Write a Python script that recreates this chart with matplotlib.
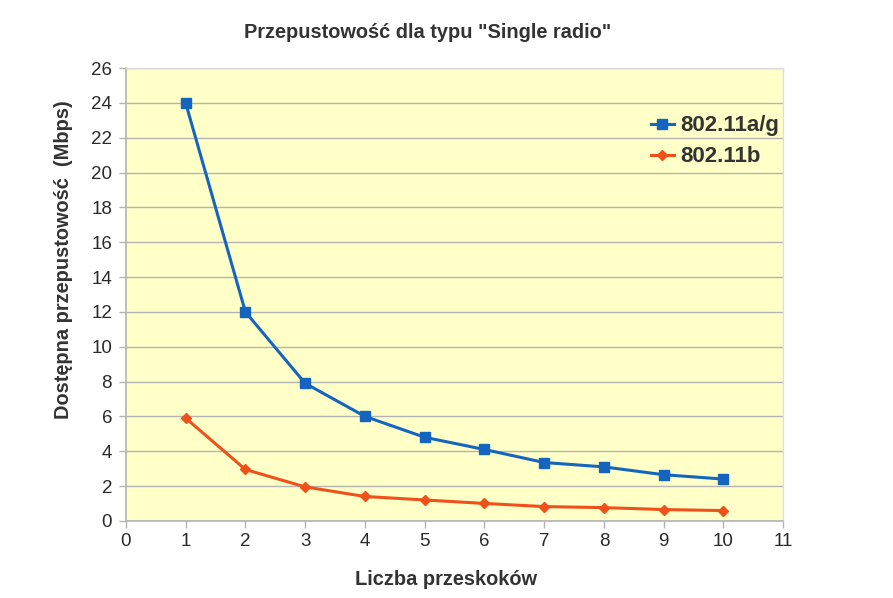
import matplotlib
matplotlib.use("Agg")
import matplotlib.pyplot as plt

hops = [1, 2, 3, 4, 5, 6, 7, 8, 9, 10]
ag_mbps = [24.0, 12.0, 7.9, 6.0, 4.8, 4.1, 3.35, 3.1, 2.65, 2.4]
b_mbps = [5.9, 2.95, 1.95, 1.4, 1.2, 1.0, 0.82, 0.76, 0.65, 0.59]
series_names = ["802.11a/g", "802.11b"]

plt.rcParams["font.family"] = ["Liberation Sans", "DejaVu Sans"]

fig = plt.figure(figsize=(8.93, 5.98), dpi=100, facecolor="white")
ax = fig.add_axes([0.141, 0.129, 0.736, 0.757])
ax.set_facecolor("#ffffc8")

ax.plot(hops, ag_mbps, color="#1565c0", lw=2.2, marker="s", ms=6.5,
        label=series_names[0], zorder=3)
ax.plot(hops, b_mbps, color="#f0501a", lw=2.2, marker="D", ms=5,
        label=series_names[1], zorder=3)

ax.set_xlim(0, 11)
ax.set_ylim(0, 26)
ax.set_xticks(range(0, 12))
ax.set_yticks(range(0, 27, 2))
ax.yaxis.grid(True, color="#b3b3b3", lw=1)
ax.set_axisbelow(True)
ax.tick_params(labelsize=13.5, length=5, width=1, direction="out",
               labelcolor="#2a2a2a", color="#b3b3b3")
ax.tick_params(axis="x", pad=4)
ax.tick_params(axis="y", pad=5)
for side in ["left", "bottom"]:
    ax.spines[side].set_color("#b3b3b3")
    ax.spines[side].set_linewidth(1.2)
for side in ["top", "right"]:
    ax.spines[side].set_color("#dddddd")
    ax.spines[side].set_linewidth(1)

# title sits a bit left of the plot centre in the original
fig.text(0.479, 0.945, 'Przepustowość dla typu "Single radio"', fontsize=14.4,
         fontweight="bold", color="#333333", ha="center", va="center")
ax.set_xlabel("Liczba przeskoków", fontsize=14.4, fontweight="bold",
              color="#333333")
ax.xaxis.set_label_coords(0.487, -0.109)
ax.set_ylabel("Dostępna przepustowość  (Mbps)", fontsize=14.4,
              fontweight="bold", color="#333333")
ax.yaxis.set_label_coords(-0.081, 0.578)

leg = ax.legend(loc="upper right", bbox_to_anchor=(1.025, 0.94), frameon=False,
                handlelength=1.05, handletextpad=0.3, labelspacing=0.45,
                prop={"weight": "bold", "size": 16})
for t in leg.get_texts():
    t.set_color("#333333")

fig.savefig("out.png", dpi=100, facecolor="white")
